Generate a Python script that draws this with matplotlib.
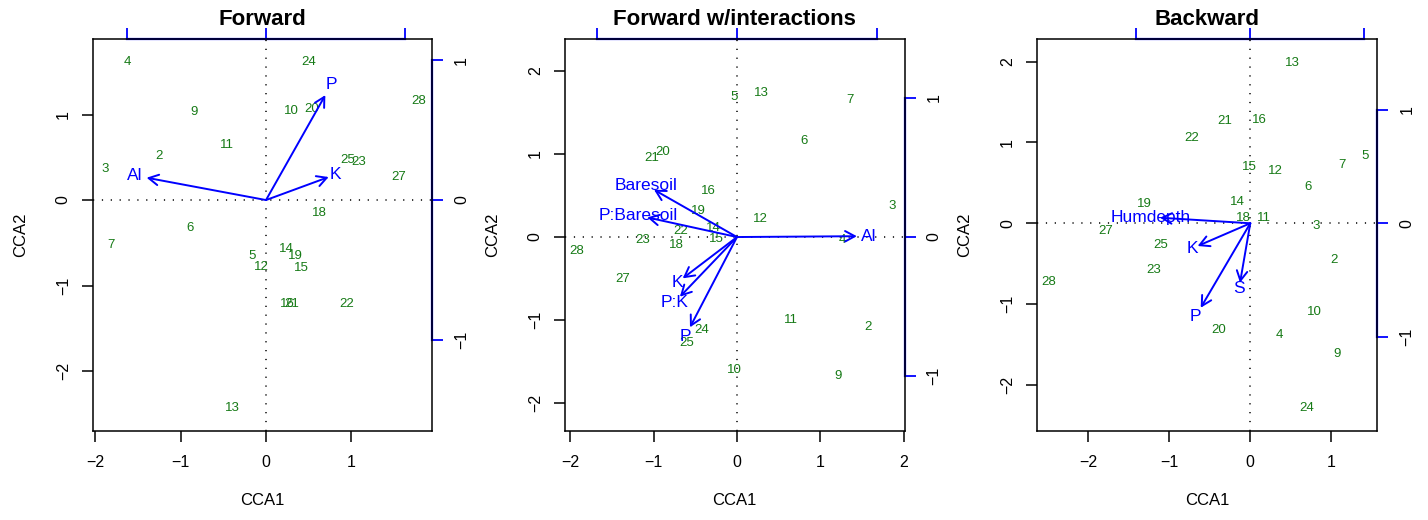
import matplotlib
matplotlib.use("Agg")
import matplotlib.pyplot as plt

plt.rcParams['font.family'] = ['Liberation Sans', 'DejaVu Sans']

# ---------------- data ----------------
titles = ["Forward", "Forward w/interactions", "Backward"]

# Panel 1: Forward
p1_sites = ["4", "24", "9", "10", "20", "28", "11", "2", "3", "25", "23", "27",
            "18", "6", "7", "14", "19", "5", "12", "15", "16", "21", "22", "13"]
p1_x = [-1.63, 0.50, -0.84, 0.30, 0.53, 1.79, -0.46, -1.25, -1.89, 0.96, 1.09, 1.55,
        0.62, -0.89, -1.82, 0.24, 0.35, -0.16, -0.05, 0.42, 0.25, 0.30, 0.94, -0.39]
p1_y = [1.61, 1.61, 1.03, 1.04, 1.06, 1.16, 0.64, 0.51, 0.36, 0.47, 0.45, 0.27,
        -0.15, -0.33, -0.53, -0.57, -0.65, -0.65, -0.78, -0.80, -1.22, -1.21, -1.22, -2.43]
p1_vars = ["Al", "P", "K"]
p1_bx = [-0.857, 0.426, 0.450]
p1_by = [0.160, 0.752, 0.165]
p1_mul = 1.632

# Panel 2: Forward w/interactions
p2_sites = ["5", "13", "7", "6", "20", "21", "16", "3", "19", "12", "22", "14",
            "15", "23", "18", "4", "28", "27", "24", "25", "11", "2", "10", "9"]
p2_x = [-0.03, 0.29, 1.36, 0.80, -0.89, -1.02, -0.34, 1.86, -0.46, 0.28, -0.68, -0.28,
        -0.25, -1.13, -0.73, 1.27, -1.92, -1.37, -0.42, -0.61, 0.65, 1.57, -0.03, 1.21]
p2_y = [1.69, 1.73, 1.65, 1.16, 1.02, 0.95, 0.56, 0.37, 0.31, 0.22, 0.07, 0.11,
        -0.02, -0.04, -0.09, -0.04, -0.17, -0.50, -1.12, -1.28, -1.00, -1.08, -1.60, -1.68]
p2_vars = ["Al", "Baresoil", "P:Baresoil", "K", "P:K", "P"]
p2_bx = [0.859, -0.595, -0.643, -0.389, -0.409, -0.337]
p2_by = [0.006, 0.340, 0.141, -0.297, -0.429, -0.649]
p2_mul = 1.676

# Panel 3: Backward
p3_sites = ["13", "21", "16", "22", "5", "7", "15", "12", "6", "19", "14", "18",
            "11", "3", "27", "25", "2", "23", "28", "10", "20", "4", "9", "24"]
p3_x = [0.52, -0.31, 0.11, -0.72, 1.41, 1.13, -0.01, 0.31, 0.71, -1.30, -0.16, -0.08,
        0.17, 0.81, -1.78, -1.11, 1.03, -1.19, -2.48, 0.79, -0.39, 0.36, 1.07, 0.69]
p3_y = [1.98, 1.27, 1.28, 1.05, 0.83, 0.72, 0.70, 0.65, 0.45, 0.24, 0.26, 0.07,
        0.07, -0.03, -0.10, -0.27, -0.45, -0.58, -0.73, -1.10, -1.32, -1.38, -1.62, -2.29]
p3_vars = ["Humdepth", "K", "S", "P"]
p3_bx = [-0.792, -0.462, -0.090, -0.435]
p3_by = [0.049, -0.200, -0.523, -0.744]
p3_mul = 1.405

panel_xlim = [(-2.027, 1.945), (-2.066, 2.012), (-2.626, 1.566)]
panel_ylim = [(-2.70, 1.883), (-2.337, 2.386), (-2.57, 2.28)]
panel_xticks = [[-2, -1, 0, 1], [-2, -1, 0, 1, 2], [-2, -1, 0, 1]]
panel_yticks = [[-2, -1, 0, 1], [-2, -1, 0, 1, 2], [-2, -1, 0, 1, 2]]

# ---------------- layout ----------------
W, H = 1428, 520
fig = plt.figure(figsize=(W / 100, H / 100), dpi=100)
boxes_px = [(93, 432), (565, 904.5), (1037.3, 1377.3)]
top_px, bot_px = 39, 431

site_col = "#167A16"
arrow_col = "#0000FF"

panels = [
    (p1_sites, p1_x, p1_y, p1_vars, p1_bx, p1_by, p1_mul),
    (p2_sites, p2_x, p2_y, p2_vars, p2_bx, p2_by, p2_mul),
    (p3_sites, p3_x, p3_y, p3_vars, p3_bx, p3_by, p3_mul),
]

for i, (sites, sx, sy, vars_, bx, by, mul) in enumerate(panels):
    l, r = boxes_px[i]
    ax = fig.add_axes([l / W, 1 - bot_px / H, (r - l) / W, (bot_px - top_px) / H])
    ax.set_xlim(*panel_xlim[i])
    ax.set_ylim(*panel_ylim[i])
    for s in ax.spines.values():
        s.set_linewidth(1.1)
        s.set_color("black")

    # reference dotted lines
    ax.axhline(0, color="black", lw=1.1, ls=(0, (0.8, 5)), zorder=1)
    ax.axvline(0, color="black", lw=1.1, ls=(0, (0.8, 5)), zorder=1)

    # site labels
    for lab, x, y in zip(sites, sx, sy):
        ax.text(x, y, lab, color=site_col, fontsize=9.5, ha="center", va="center", zorder=3)

    # biplot arrows
    for lab, x, y in zip(vars_, bx, by):
        ax.annotate("", xy=(x * mul, y * mul), xytext=(0, 0),
                    arrowprops=dict(arrowstyle="->,head_length=0.5,head_width=0.27",
                                    color=arrow_col, lw=1.4, shrinkA=0, shrinkB=0,
                                    mutation_scale=14), zorder=4)
        ax.text(1.1 * x * mul, 1.1 * y * mul, lab, color=arrow_col, fontsize=12.5,
                ha="center", va="center", zorder=5)

    ax.set_xticks(panel_xticks[i])
    ax.set_yticks(panel_yticks[i])
    ax.tick_params(axis="both", direction="out", length=8, width=1.1, labelsize=11.5,
                   color="black")
    ax.tick_params(axis="x", pad=9)
    ax.tick_params(axis="y", pad=8, labelrotation=90)
    for t in ax.get_yticklabels():
        t.set_va("center")
    ax.set_xlabel("CCA1", fontsize=12, labelpad=17)
    ax.set_ylabel("CCA2", fontsize=12, labelpad=20)
    ax.set_title(titles[i], fontsize=16, fontweight="bold", y=1.0 + 14 / 392, pad=0)

    # biplot-scale axes (top and right)
    secx = ax.secondary_xaxis("top", functions=(lambda v, m=mul: v / m, lambda v, m=mul: v * m))
    secx.set_xticks([-1, 0, 1])
    secx.tick_params(axis="x", direction="out", length=8, width=1.3, color=arrow_col,
                     labeltop=False, labelbottom=False)
    secx.spines["top"].set_color(arrow_col)
    secx.spines["top"].set_linewidth(1.6)
    secx.spines["top"].set_bounds(-1, 1)

    secy = ax.secondary_yaxis("right", functions=(lambda v, m=mul: v / m, lambda v, m=mul: v * m))
    secy.set_yticks([-1, 0, 1])
    secy.tick_params(axis="y", direction="out", length=8, width=1.3, color=arrow_col,
                     labelsize=11.5, pad=8, labelrotation=90)
    for t in secy.get_yticklabels():
        t.set_va("center")
    secy.spines["right"].set_color(arrow_col)
    secy.spines["right"].set_linewidth(1.6)
    secy.spines["right"].set_bounds(-1, 1)

fig.savefig("out.png", dpi=100)
